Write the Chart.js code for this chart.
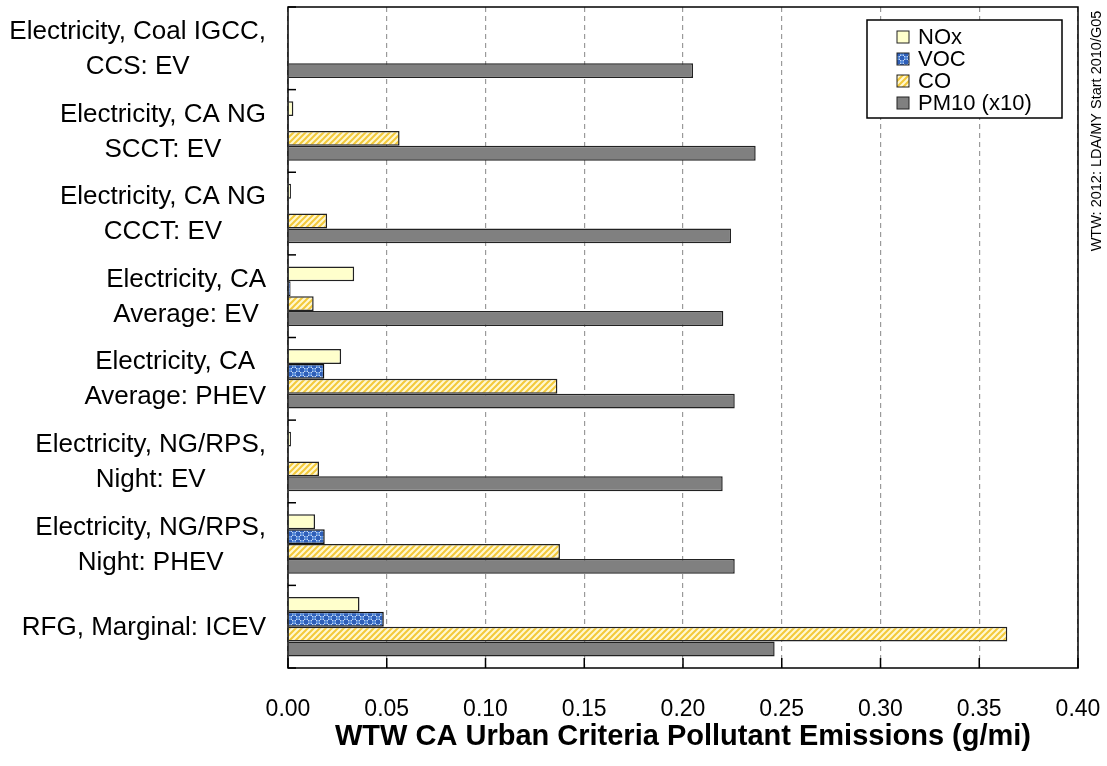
<!DOCTYPE html>
<html>
<head>
<meta charset="utf-8">
<script src="https://cdn.jsdelivr.net/npm/chart.js@4.4.0/dist/chart.umd.min.js"></script>
<style>
  html, body { margin: 0; padding: 0; background: #fff; }
</style>
</head>
<body>
<canvas id="emissionsChart" width="1107" height="766"></canvas>
<script>
var categories = [
  ['Electricity, Coal IGCC,', 'CCS: EV'],
  ['Electricity, CA NG', 'SCCT: EV'],
  ['Electricity, CA NG', 'CCCT: EV'],
  ['Electricity, CA', 'Average: EV'],
  ['Electricity, CA', 'Average: PHEV'],
  ['Electricity, NG/RPS,', 'Night: EV'],
  ['Electricity, NG/RPS,', 'Night: PHEV'],
  ['RFG, Marginal: ICEV']
];
var seriesNames = ['NOx', 'VOC', 'CO', 'PM10 (x10)'];
var noxValues  = [0.0000, 0.0027, 0.0015, 0.0335, 0.0269, 0.0015, 0.0137, 0.0362];
var vocValues  = [0.0000, 0.0005, 0.0005, 0.0013, 0.0184, 0.0002, 0.0186, 0.0485];
var coValues   = [0.0000, 0.0565, 0.0198, 0.0130, 0.1364, 0.0157, 0.1377, 0.3642];
var pm10Values = [0.2051, 0.2368, 0.2243, 0.2204, 0.2262, 0.2201, 0.2262, 0.2464];
var xMin = 0, xMax = 0.40, xStep = 0.05;
var xTitle = 'WTW CA Urban Criteria Pollutant Emissions (g/mi)';
var sideNote = 'WTW: 2012: LDA/MY Start 2010/G05';

var fontFamily = '"Liberation Sans", Arial, sans-serif';

// fill patterns for VOC (blue check) and CO (yellow hatch)
function makeTile(size, draw) {
  var c = document.createElement('canvas');
  c.width = size; c.height = size;
  draw(c.getContext('2d'));
  return c.getContext('2d').createPattern(c, 'repeat');
}
var vocFill = makeTile(8, function (t) {
  t.fillStyle = '#ffffff';
  t.fillRect(0, 0, 8, 8);
  t.fillStyle = '#2f5fb8';
  t.fillRect(4, 0, 4, 4);
  t.fillRect(0, 4, 4, 4);
  t.fillStyle = '#4f86d8';
  t.beginPath(); t.arc(2, 2, 2, 0, Math.PI * 2); t.fill();
  t.beginPath(); t.arc(6, 6, 2, 0, Math.PI * 2); t.fill();
});
var coFill = makeTile(6, function (t) {
  t.fillStyle = '#fff8d0';
  t.fillRect(0, 0, 6, 6);
  t.strokeStyle = '#f3c93a';
  t.lineWidth = 2;
  t.beginPath();
  t.moveTo(-1, 7); t.lineTo(7, -1);
  t.moveTo(-4, 4); t.lineTo(4, -4);
  t.moveTo(2, 10); t.lineTo(10, 2);
  t.stroke();
});

var fills = ['#ffffcc', vocFill, coFill, '#808080'];

var frameAndLabels = {
  id: 'frameAndLabels',
  afterDraw: function (chart) {
    var ctx = chart.ctx;
    var area = chart.chartArea;
    var yScale = chart.scales.y;
    var xScale = chart.scales.x;
    ctx.save();

    // plot frame
    ctx.strokeStyle = '#000';
    ctx.lineWidth = 1.5;
    ctx.strokeRect(area.left, area.top, area.right - area.left, area.bottom - area.top);

    // inward tick marks on the category axis (between groups)
    for (var i = 0; i <= categories.length; i++) {
      var yb = yScale.getPixelForValue(i - 0.5);
      ctx.beginPath();
      ctx.moveTo(area.left, yb);
      ctx.lineTo(area.left + 8, yb);
      ctx.stroke();
    }
    // inward tick marks on the value axis
    for (var v = xMin; v <= xMax + 1e-9; v += xStep) {
      var xp = xScale.getPixelForValue(v);
      ctx.beginPath();
      ctx.moveTo(xp, area.bottom);
      ctx.lineTo(xp, area.bottom - 10);
      ctx.stroke();
    }

    // category labels: lines centred on each other, block right-aligned
    ctx.fillStyle = '#000';
    ctx.font = '26px ' + fontFamily;
    ctx.textBaseline = 'middle';
    ctx.textAlign = 'center';
    var lineH = 35;
    categories.forEach(function (lines, idx) {
      var yc = yScale.getPixelForValue(idx) + 1;
      var w = 0;
      lines.forEach(function (s) { w = Math.max(w, ctx.measureText(s).width); });
      var cx = area.left - 22 - w / 2;
      var y0 = yc - (lines.length - 1) * lineH / 2;
      lines.forEach(function (s, k) { ctx.fillText(s, cx, y0 + k * lineH); });
    });

    // legend box
    var lx = area.right - 211, ly = area.top + 13, lw = 195, lh = 98;
    ctx.fillStyle = '#fff';
    ctx.fillRect(lx, ly, lw, lh);
    ctx.strokeStyle = '#000';
    ctx.lineWidth = 1.5;
    ctx.strokeRect(lx, ly, lw, lh);
    ctx.font = '22px ' + fontFamily;
    ctx.textAlign = 'left';
    chart.data.datasets.forEach(function (ds, k) {
      var iy = ly + 17 + k * 22;
      ctx.fillStyle = ds.backgroundColor;
      ctx.fillRect(lx + 30, iy - 6, 12, 12);
      ctx.strokeStyle = '#222';
      ctx.lineWidth = 1;
      ctx.strokeRect(lx + 30, iy - 6, 12, 12);
      ctx.fillStyle = '#000';
      ctx.fillText(ds.label, lx + 51, iy + 1);
    });

    // rotated note at the right edge
    ctx.translate(chart.width - 10, area.top + 124);
    ctx.rotate(-Math.PI / 2);
    ctx.font = '14.5px ' + fontFamily;
    ctx.textAlign = 'center';
    ctx.fillStyle = '#000';
    ctx.fillText(sideNote, 0, 0);
    ctx.restore();
  }
};

var ctx = document.getElementById('emissionsChart').getContext('2d');
var emissionsChart = new Chart(ctx, {
  type: 'bar',
  data: {
    labels: categories,
    datasets: [
      { label: seriesNames[0], data: noxValues,  backgroundColor: fills[0], borderColor: '#222', borderWidth: 1.5 },
      { label: seriesNames[1], data: vocValues,  backgroundColor: fills[1], borderColor: '#111', borderWidth: 1.5 },
      { label: seriesNames[2], data: coValues,   backgroundColor: fills[2], borderColor: '#222', borderWidth: 1.5 },
      { label: seriesNames[3], data: pm10Values, backgroundColor: fills[3], borderColor: '#222', borderWidth: 1.5 }
    ]
  },
  options: {
    responsive: false,
    animation: false,
    indexAxis: 'y',
    categoryPercentage: 0.72,
    barPercentage: 1.0,
    layout: { padding: { top: 7, right: 29, bottom: 0, left: 0 } },
    plugins: {
      legend: { display: false },
      tooltip: { enabled: false }
    },
    scales: {
      y: {
        type: 'category',
        offset: true,
        grid: { display: false },
        border: { display: false },
        ticks: { display: false },
        afterFit: function (scale) { scale.width = 288; }
      },
      x: {
        min: xMin,
        max: xMax,
        grid: { color: '#9a9a9a', lineWidth: 1.2, drawTicks: false },
        border: { display: false, dash: [5, 4] },
        ticks: {
          stepSize: xStep,
          padding: 28,
          color: '#000',
          font: { family: fontFamily, size: 23 },
          callback: function (v) { return Number(v).toFixed(2); }
        },
        title: {
          display: true,
          text: xTitle,
          color: '#000',
          font: { family: fontFamily, size: 29, weight: 'bold' },
          padding: { top: 0, bottom: 12 }
        },
        afterFit: function (scale) {
          scale.height = 98;
          scale.paddingLeft = 0;
          scale.paddingRight = 0;
        }
      }
    }
  },
  plugins: [frameAndLabels]
});
</script>
</body>
</html>
